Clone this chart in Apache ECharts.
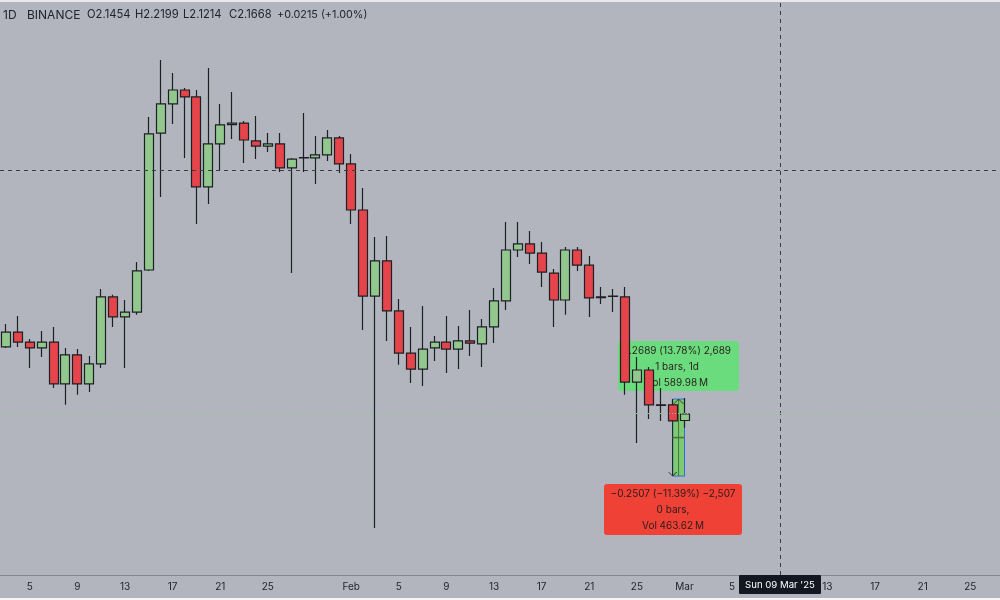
<!DOCTYPE html>
<html>
<head>
<meta charset="utf-8">
<style>
  html, body { margin: 0; padding: 0; background: #b2b5be; }
  #chart { width: 1000px; height: 600px; }
</style>
<script src="https://cdn.jsdelivr.net/npm/echarts@6/dist/echarts.min.js"></script>
</head>
<body>
<div id="chart"></div>
<script>
// daily candles, first one is 3 Jan 2025, last one 1 Mar
var opens = [2.388, 2.437, 2.404, 2.385, 2.404, 2.266, 2.362, 2.266, 2.332, 2.553, 2.487, 2.503, 2.642, 3.094, 3.190, 3.236, 3.213, 2.916, 3.058, 3.122, 3.127, 3.068, 3.051, 3.058, 2.979, 3.012, 3.012, 3.022, 3.078,
  2.992, 2.840, 2.556, 2.672, 2.507, 2.368, 2.315, 2.385, 2.404, 2.381, 2.408, 2.398, 2.454, 2.540, 2.708, 2.728, 2.698, 2.632, 2.543, 2.708, 2.658, 2.553, 2.556, 2.553, 2.272, 2.312, 2.197, 2.197, 2.1454];
var closes = [2.437, 2.404, 2.385, 2.404, 2.266, 2.362, 2.266, 2.332, 2.553, 2.487, 2.503, 2.639, 3.091, 3.190, 3.236, 3.213, 2.916, 3.058, 3.121, 3.127, 3.071, 3.051, 3.058, 2.979, 3.008, 3.013, 3.022, 3.078, 2.992,
  2.840, 2.556, 2.672, 2.507, 2.368, 2.315, 2.381, 2.404, 2.381, 2.408, 2.401, 2.454, 2.540, 2.708, 2.728, 2.698, 2.635, 2.543, 2.708, 2.658, 2.550, 2.551, 2.555, 2.272, 2.312, 2.197, 2.195, 2.144, 2.1668];
var lows = [2.385, 2.388, 2.319, 2.355, 2.253, 2.197, 2.230, 2.239, 2.319, 2.454, 2.319, 2.494, 2.639, 2.883, 3.124, 3.012, 2.794, 2.860, 2.969, 3.074, 2.995, 3.008, 3.031, 2.965, 2.632, 2.965, 2.926, 3.002, 2.962,
  2.794, 2.444, 1.791, 2.408, 2.329, 2.269, 2.259, 2.342, 2.302, 2.315, 2.358, 2.322, 2.401, 2.510, 2.685, 2.662, 2.586, 2.454, 2.494, 2.639, 2.487, 2.530, 2.503, 2.230, 2.071, 2.150, 2.144, 2.144, 2.1214];
var highs = [2.464, 2.490, 2.414, 2.441, 2.454, 2.385, 2.381, 2.358, 2.579, 2.560, 2.543, 2.668, 3.147, 3.335, 3.292, 3.243, 3.236, 3.309, 3.190, 3.229, 3.134, 3.150, 3.094, 3.094, 3.012, 3.160, 3.084, 3.104, 3.084,
  3.025, 2.913, 2.751, 2.754, 2.546, 2.454, 2.523, 2.424, 2.490, 2.457, 2.510, 2.480, 2.583, 2.800, 2.800, 2.771, 2.734, 2.645, 2.718, 2.718, 2.688, 2.586, 2.579, 2.586, 2.355, 2.322, 2.253, 2.216, 2.2199];

var labelDays = [5, 9, 13, 17, 21, 25];
var monthLabels = { '2025-02-01': 'Feb', '2025-03-01': 'Mar' };
var crossDate = '2025-03-09';
var crossPrice = 2.968;
var lastClose = 2.1668;
var crossLabel = "Sun 09 Mar '25";

// measure tool: date, top price, bottom price, middle price
var measure = [['2025-02-28', 2.216, 1.962, 2.089]];
var upLines = ['0.2689 (13.78%) 2,689', '1 bars, 1d', 'Vol 589.98\u2009M'];
var downLines = ['\u22120.2507 (\u221211.39%) \u22122,507', '0 bars,', 'Vol 463.62\u2009M'];

var header = [
  ['1D', 3], ['BINANCE', 27], ['O2.1454', 87], ['H2.2199', 135],
  ['L2.1214', 183], ['C2.1668', 229], ['+0.0215 (+1.00%)', 277]
];

var categories = [];
for (var i = 0; i < 84; i++) {
  categories.push(new Date(Date.UTC(2025, 0, 3 + i)).toISOString().slice(0, 10));
}

var candles = opens.map(function (o, i) {
  return [o, closes[i], lows[i], highs[i]];
});

function dateLabel(value) {
  if (monthLabels[value]) return monthLabels[value];
  if (value === crossDate) return '';
  var day = parseInt(value.slice(8), 10);
  return labelDays.indexOf(day) >= 0 ? String(day) : '';
}

function renderMeasure(params, api) {
  var tl = api.coord([api.value(0), api.value(1)]);
  var bl = api.coord([api.value(0), api.value(2)]);
  var midY = api.coord([api.value(0), api.value(3)])[1];
  var w = api.size([1, 0])[0];
  var cx = tl[0] + w / 2;
  function line(x1, y1, x2, y2, color, width) {
    return { type: 'line', shape: { x1: x1, y1: y1, x2: x2, y2: y2 }, style: { stroke: color, lineWidth: width } };
  }
  return {
    type: 'group',
    children: [
      { type: 'rect', shape: { x: tl[0], y: tl[1], width: w, height: bl[1] - tl[1] }, style: { fill: '#7fcb74', stroke: '#2f6fe0', lineWidth: 1 } },
      line(tl[0], tl[1] + 6, tl[0], bl[1], '#1c1f24', 1),
      line(tl[0], midY, tl[0] + w, midY, '#47733f', 1.6),
      line(cx, tl[1], cx, bl[1], '#47733f', 1),
      line(cx - 5, tl[1] + 5, cx, tl[1], '#2c3a2c', 1),
      line(cx, tl[1], cx + 5, tl[1] + 5, '#2c3a2c', 1),
      line(tl[0] - 4, bl[1] - 4, tl[0], bl[1], '#3a3d45', 1),
      line(tl[0], bl[1], tl[0] + 4, bl[1] - 4, '#1c1f24', 1)
    ]
  };
}

function boxGraphics(x, y, w, h, fill, lines, textX) {
  var out = [{ type: 'rect', z: 1, silent: true, shape: { x: x, y: y, width: w, height: h, r: 3 }, style: { fill: fill } }];
  lines.forEach(function (t, i) {
    out.push({
      type: 'text', z: 1, silent: true, x: textX, y: y + 10 + i * 15.8,
      style: { text: t, fill: '#2a1d1d', font: '10px Inter', textAlign: 'center', textVerticalAlign: 'middle' }
    });
  });
  return out;
}

var graphics = [
  { type: 'rect', z: 50, silent: true, shape: { x: 0, y: 0, width: 1000, height: 2 }, style: { fill: '#e9e9ec' } },
  { type: 'rect', z: 50, silent: true, shape: { x: 0, y: 598, width: 1000, height: 2 }, style: { fill: '#f5f5f6' } },
  { type: 'rect', z: 60, silent: true, shape: { x: 739, y: 575, width: 82, height: 19, r: 1 }, style: { fill: '#131722' } },
  { type: 'text', z: 61, silent: true, x: 780, y: 585, style: { text: crossLabel, fill: '#ffffff', font: '9.6px Inter', textAlign: 'center', textVerticalAlign: 'middle' } }
];
header.forEach(function (h, i) {
  graphics.push({
    type: 'text', z: 60, silent: true, x: h[1], y: 15,
    style: { text: h[0], fill: '#20242c', font: (i < 2 ? '12px' : i < 6 ? '11.2px' : '10.8px') + ' Inter', textVerticalAlign: 'middle' }
  });
});
graphics = graphics
  .concat(boxGraphics(618, 341, 121, 50, '#6bdc7e', upLines, 677))
  .concat(boxGraphics(604, 484, 138, 51, '#ef4136', downLines, 673));

var chart = echarts.init(document.getElementById('chart'));
chart.setOption({
  animation: false,
  backgroundColor: '#b2b5be',
  grid: { left: -1.2, top: 0, width: 1001.2, height: 575 },
  xAxis: {
    type: 'category',
    data: categories,
    boundaryGap: true,
    axisLine: { lineStyle: { color: '#85878f', width: 1 } },
    axisTick: { show: false },
    splitLine: { show: false },
    axisLabel: {
      interval: 0,
      margin: 7,
      color: '#20242c',
      fontFamily: 'Inter',
      fontSize: 10,
      formatter: dateLabel
    }
  },
  yAxis: {
    type: 'value',
    min: 1.6355,
    max: 3.533,
    show: false,
    splitLine: { show: false }
  },
  graphic: graphics,
  series: [
    {
      type: 'custom',
      z: 1,
      silent: true,
      clip: false,
      renderItem: renderMeasure,
      data: measure
    },
    {
      type: 'candlestick',
      z: 2,
      silent: true,
      barWidth: 9.5,
      data: candles,
      itemStyle: {
        color: '#92c88e',
        color0: '#e4444a',
        borderColor: '#1c1f24',
        borderColor0: '#1c1f24',
        borderColorDoji: '#1c1f24',
        borderWidth: 1.2
      },
      markLine: {
        silent: true,
        symbol: 'none',
        label: { show: false },
        animation: false,
        data: [
          { xAxis: crossDate, lineStyle: { color: '#3a3d45', type: [4, 4], width: 1 } },
          { yAxis: crossPrice, lineStyle: { color: '#3a3d45', type: [4, 4], width: 1 } },
          { yAxis: lastClose, lineStyle: { color: '#95c891', type: [1, 2], width: 1 } }
        ]
      }
    }
  ]
});
</script>
</body>
</html>
